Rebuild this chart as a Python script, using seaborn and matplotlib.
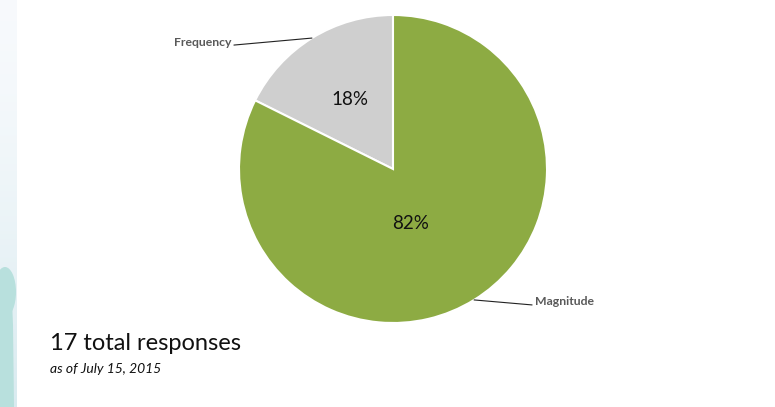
import numpy as np
import matplotlib
matplotlib.use("Agg")
import matplotlib.pyplot as plt
from matplotlib.patches import Polygon, Ellipse
import seaborn as sns

# Survey results
categories = ["Frequency", "Magnitude"]
responses = [3, 14]
pct_labels = ["18%", "82%"]
total_text = "17 total responses"
date_text = "as of July 15, 2015"

sns.set_theme(style="white")
plt.rcParams["font.family"] = ["Lato", "DejaVu Sans"]

colors = ["#cfcfcf", "#8dab43"]

W, H = 775, 407
fig = plt.figure(figsize=(W / 100, H / 100), dpi=100)
fig.patch.set_facecolor("white")

# decorative side strip
strip = fig.add_axes([0, 0, 17 / W, 1])
grad = np.linspace(0, 1, 256).reshape(-1, 1)
top = np.array([0.97, 0.98, 0.99])
bot = np.array([0.85, 0.92, 0.94])
img = top + (bot - top) * grad[..., None] ** 1.5
strip.imshow(img, aspect="auto", extent=[0, 17, H, 0])
teal = "#b8e0dd"
strip.add_patch(Ellipse((5, 292), 22, 50, color=teal, lw=0))
strip.add_patch(Polygon([[-2, 300], [12, 300], [13, 325], [14, 407], [-2, 407]],
                        closed=True, color=teal, lw=0))
strip.set_xlim(0, 17)
strip.set_ylim(H, 0)
strip.axis("off")

ax = fig.add_axes([0, 0, 1, 1])
cx, cy, r = 393, H - 169, 154
wedges, _ = ax.pie(responses, colors=colors, startangle=90, counterclock=True,
                   center=(cx, cy), radius=r, frame=True,
                   wedgeprops=dict(edgecolor="white", linewidth=1.5))
ax.set_xlim(0, W)
ax.set_ylim(0, H)
ax.set_aspect("equal")
ax.axis("off")

# percentage labels inside the wedges (distance fraction, angular shift)
inside = [(0.53, 0.0), (0.37, -14.0)]
# outside category labels: leader end offset and text alignment
outside = [((-78, -7), "right"), ((58, -5), "left")]

for w, pl, (frac, shift), ((ox, oy), ha), name in zip(
        wedges, pct_labels, inside, outside, categories):
    mid = np.deg2rad((w.theta1 + w.theta2) / 2)
    a = mid + np.deg2rad(shift)
    ax.text(cx + frac * r * np.cos(a), cy + frac * r * np.sin(a), pl,
            ha="center", va="center", fontsize=13.5, color="#111111")
    ex, ey = cx + r * np.cos(mid), cy + r * np.sin(mid)
    lx, ly = ex + ox, ey + oy
    ax.plot([ex, lx], [ey, ly], color="#222222", lw=0.8)
    tx = lx - 2 if ha == "right" else lx + 3
    ax.text(tx, ly + 3, name, ha=ha, va="center", fontsize=8.8,
            fontweight="bold", color="#595959")

ax.text(50, H - 343, total_text, ha="left", va="center", fontsize=17,
        color="#111111")
ax.text(50, H - 369, date_text, ha="left", va="center", fontsize=10,
        style="italic", color="#111111")

fig.savefig("out.png", dpi=100, facecolor="white")
